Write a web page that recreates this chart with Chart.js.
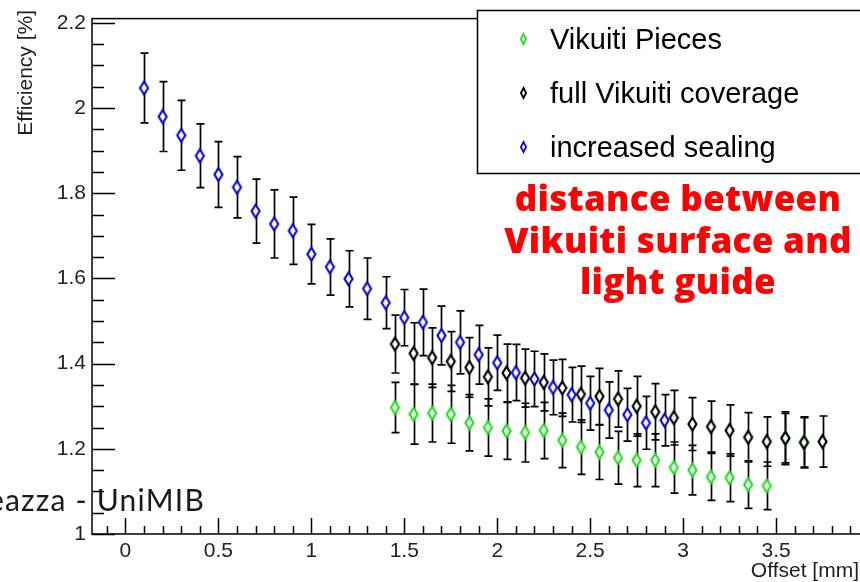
<!DOCTYPE html>
<html>
<head>
<meta charset="utf-8">
<script src="https://cdn.jsdelivr.net/npm/chart.js@4.4.0/dist/chart.umd.min.js"></script>
<style>
  html, body { margin: 0; padding: 0; background: #fff; overflow: hidden; }
  #wrap { position: relative; width: 860px; height: 582px; overflow: hidden; }
  #chart { position: absolute; left: 0; top: 0; }
  .note { position: absolute; left: 470px; width: 416px; text-align: center; color: #ff0000;
          font-family: "Open Sans", sans-serif; font-weight: 800; font-size: 35px; line-height: 35px;
          letter-spacing: 0.3px; white-space: nowrap; }
  #credit { position: absolute; left: 0; top: 484px; width: 205px; display: flex; justify-content: flex-end;
            font-family: Lato, sans-serif; font-weight: 400; font-size: 30px; line-height: 30px;
            letter-spacing: 1.2px; color: #1a1a1a; white-space: nowrap; }
</style>
</head>
<body>
<div id="wrap">
  <canvas id="chart" width="874" height="582"></canvas>
  <div class="note" style="top:180px">distance between</div>
  <div class="note" style="top:222px">Vikuiti surface and</div>
  <div class="note" style="top:263px">light guide</div>
  <div id="credit"><span>eazza - UniMIB</span></div>
</div>
<script>
// axis ticks
const xTicks = [0, 0.5, 1, 1.5, 2, 2.5, 3, 3.5];
const yTicks = [1, 1.2, 1.4, 1.6, 1.8, 2, 2.2];

// increased sealing (blue)
const blueX = [0.1, 0.2, 0.3, 0.4, 0.5, 0.6, 0.7, 0.8, 0.9, 1.0, 1.1, 1.2, 1.3, 1.4, 1.5,
               1.6, 1.7, 1.8, 1.9, 2.0, 2.1, 2.2, 2.3, 2.4, 2.5, 2.6, 2.7, 2.8, 2.9];
const blueY = [2.047, 1.980, 1.936, 1.888, 1.844, 1.814, 1.758, 1.728, 1.712, 1.657, 1.627, 1.599, 1.576, 1.543, 1.508,
               1.497, 1.466, 1.450, 1.421, 1.402, 1.379, 1.364, 1.344, 1.327, 1.307, 1.291, 1.280, 1.261, 1.267];
const blueErr = [0.082, 0.082, 0.082, 0.075, 0.077, 0.072, 0.075, 0.080, 0.079, 0.070, 0.066, 0.066, 0.072, 0.061, 0.066,
                 0.078, 0.069, 0.074, 0.069, 0.065, 0.066, 0.065, 0.064, 0.064, 0.063, 0.066, 0.062, 0.062, 0.060];

// full Vikuiti coverage (black)
const blackX = [1.45, 1.55, 1.65, 1.75, 1.85, 1.95, 2.05, 2.15, 2.25, 2.35, 2.45, 2.55,
                2.65, 2.75, 2.85, 2.95, 3.05, 3.15, 3.25, 3.35, 3.45, 3.55, 3.65, 3.75];
const blackY = [1.446, 1.424, 1.414, 1.405, 1.391, 1.369, 1.378, 1.366, 1.356, 1.343, 1.328, 1.323,
                1.317, 1.300, 1.287, 1.273, 1.258, 1.252, 1.243, 1.227, 1.217, 1.225, 1.215, 1.217];
const blackErr = [0.068, 0.072, 0.070, 0.070, 0.070, 0.068, 0.068, 0.068, 0.067, 0.067, 0.066, 0.066,
                  0.066, 0.070, 0.066, 0.064, 0.062, 0.060, 0.060, 0.058, 0.058, 0.062, 0.060, 0.060];

// Vikuiti Pieces (green)
const greenX = [1.45, 1.55, 1.65, 1.75, 1.85, 1.95, 2.05, 2.15, 2.25, 2.35, 2.45, 2.55,
                2.65, 2.75, 2.85, 2.95, 3.05, 3.15, 3.25, 3.35, 3.45, 3.55, 3.65];
const greenY = [1.297, 1.281, 1.284, 1.281, 1.261, 1.250, 1.242, 1.238, 1.243, 1.220, 1.204, 1.192,
                1.179, 1.173, 1.173, 1.156, 1.150, 1.134, 1.132, 1.116, 1.113, 1.225, 1.215];
const greenErr = [0.059, 0.070, 0.068, 0.068, 0.066, 0.067, 0.067, 0.069, 0.066, 0.064, 0.064, 0.064,
                  0.062, 0.062, 0.062, 0.060, 0.058, 0.055, 0.056, 0.056, 0.056, 0.058, 0.058];

const GREEN = '#22e022', BLACK = '#000000', BLUE = '#0a0ad0';

// open diamond marker, taller than wide like the ROOT one
function diamond(color, hw, hh, lw) {
    const c = document.createElement('canvas');
    c.width = Math.ceil(hw * 2 + lw * 2 + 2);
    c.height = Math.ceil(hh * 2 + lw * 2 + 2);
    const g = c.getContext('2d');
    const cx = c.width / 2, cy = c.height / 2;
    g.beginPath();
    g.moveTo(cx, cy - hh);
    g.lineTo(cx + hw, cy);
    g.lineTo(cx, cy + hh);
    g.lineTo(cx - hw, cy);
    g.closePath();
    g.fillStyle = '#fff';
    g.fill();
    g.lineWidth = lw;
    g.strokeStyle = color;
    g.stroke();
    return c;
}

function points(xs, ys) {
    return xs.map((x, i) => ({ x: x, y: ys[i] }));
}

const legendItems = [
    { label: 'Vikuiti Pieces', color: GREEN },
    { label: 'full Vikuiti coverage', color: BLACK },
    { label: 'increased sealing', color: BLUE }
];

const rootLook = {
    id: 'rootLook',
    beforeDatasetsDraw(chart) {
        const ctx = chart.ctx;
        const a = chart.chartArea;
        const xs = chart.scales.x, ys = chart.scales.y;
        ctx.save();
        // error bars
        ctx.strokeStyle = '#000';
        ctx.lineWidth = 1.7;
        chart.data.datasets.forEach(ds => {
            ds.data.forEach((p, i) => {
                const e = ds.errors[i];
                const px = Math.round(xs.getPixelForValue(p.x)) + 0.5;
                const t = ys.getPixelForValue(p.y + e);
                const b = ys.getPixelForValue(p.y - e);
                ctx.beginPath();
                ctx.moveTo(px, t); ctx.lineTo(px, b);
                ctx.moveTo(px - 4, t); ctx.lineTo(px + 4, t);
                ctx.moveTo(px - 4, b); ctx.lineTo(px + 4, b);
                ctx.stroke();
            });
        });
        // frame
        ctx.lineWidth = 1.5;
        ctx.strokeRect(a.left, a.top, a.right - a.left + 5, a.bottom - a.top);
        // inward ticks, y axis
        ctx.beginPath();
        for (let v = ys.min; v <= ys.max + 1e-9; v += 0.05) {
            const py = Math.round(ys.getPixelForValue(v)) + 0.5;
            const major = Math.abs(v * 5 - Math.round(v * 5)) < 1e-6;
            ctx.moveTo(a.left, py);
            ctx.lineTo(a.left + (major ? 23 : 12), py);
        }
        // inward ticks, x axis
        for (let k = Math.ceil(xs.min * 10); k <= Math.floor(xs.max * 10); k++) {
            const px = Math.round(xs.getPixelForValue(k / 10)) + 0.5;
            const major = k % 5 === 0;
            ctx.moveTo(px, a.bottom);
            ctx.lineTo(px, a.bottom - (major ? 16 : 8));
        }
        ctx.stroke();
        ctx.restore();
    },
    afterDraw(chart) {
        const ctx = chart.ctx;
        ctx.save();
        // legend box
        ctx.fillStyle = '#fff';
        ctx.fillRect(477, 10, 420, 164);
        ctx.strokeStyle = '#000';
        ctx.lineWidth = 1.5;
        ctx.strokeRect(477.5, 10.5, 420, 163);
        ctx.font = '29px "Liberation Sans", Arial, sans-serif';
        ctx.textBaseline = 'alphabetic';
        legendItems.forEach((it, i) => {
            const cy = 38.5 + i * 54;
            const m = diamond(it.color, 2.6, 5, 1.8);
            ctx.drawImage(m, Math.round(523 - m.width / 2), Math.round(cy - m.height / 2));
            ctx.fillStyle = '#000';
            ctx.fillText(it.label, 550, cy + 10);
        });
        // axis titles
        ctx.font = '21px "Liberation Sans", Arial, sans-serif';
        ctx.fillStyle = '#222';
        ctx.textAlign = 'right';
        ctx.fillText('Offset [mm]', 859, 577);
        ctx.translate(32, 10);
        ctx.rotate(-Math.PI / 2);
        ctx.fillText('Efficiency [%]', 0, 0);
        ctx.restore();
    }
};

const tickFont = { family: '"Liberation Sans", Arial, sans-serif', size: 21 };

const chart = new Chart(document.getElementById('chart').getContext('2d'), {
    type: 'scatter',
    data: {
        datasets: [
            { label: 'increased sealing', data: points(blueX, blueY), errors: blueErr, order: 0,
              pointStyle: diamond(BLUE, 4, 6.5, 2.2) },
            { label: 'full Vikuiti coverage', data: points(blackX, blackY), errors: blackErr, order: 1,
              pointStyle: diamond(BLACK, 4, 6.5, 2.2) },
            { label: 'Vikuiti Pieces', data: points(greenX, greenY), errors: greenErr, order: 2,
              pointStyle: diamond(GREEN, 4, 6.5, 2.2) }
        ]
    },
    options: {
        responsive: false,
        animation: false,
        devicePixelRatio: 1,
        layout: { padding: { top: 11, left: 0, right: 0, bottom: 0 } },
        plugins: { legend: { display: false }, tooltip: { enabled: false } },
        scales: {
            x: {
                type: 'linear', min: -0.18, max: 4.0,
                afterFit: s => { s.height = 48; },
                afterBuildTicks: s => { s.ticks = xTicks.map(v => ({ value: v })); },
                grid: { display: false, drawTicks: false },
                border: { display: false },
                ticks: { font: tickFont, color: '#222', padding: 5, maxRotation: 0, autoSkip: false,
                         callback: v => String(v) }
            },
            y: {
                type: 'linear', min: 1, max: 2.21,
                afterFit: s => { s.width = 92; },
                afterBuildTicks: s => { s.ticks = yTicks.map(v => ({ value: v })); },
                grid: { display: false, drawTicks: false },
                border: { display: false },
                ticks: { font: tickFont, color: '#222', padding: 6, autoSkip: false,
                         callback: v => String(v) }
            }
        }
    },
    plugins: [rootLook]
});
</script>
</body>
</html>
